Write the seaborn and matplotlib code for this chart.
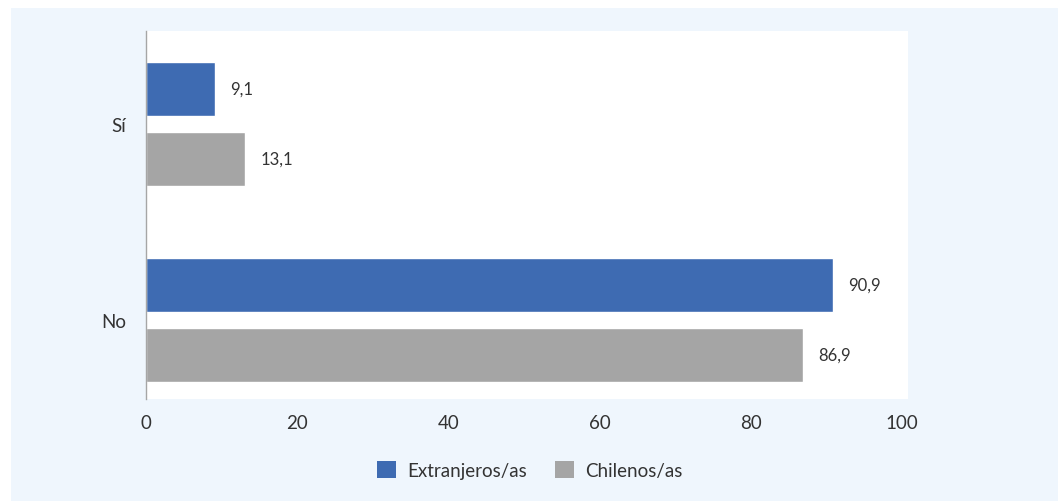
import matplotlib
matplotlib.use("Agg")
import matplotlib.pyplot as plt
from matplotlib.patches import Rectangle
import seaborn as sns
import pandas as pd

# Data
categories = ["Sí", "No"]
series_names = ["Extranjeros/as", "Chilenos/as"]
extranjeros = [9.1, 90.9]
chilenos = [13.1, 86.9]
x_ticks = [0, 20, 40, 60, 80, 100]

colors = ["#3E6BB2", "#A5A5A5"]
text_color = "#333333"
panel_bg = "#EFF6FD"

df = pd.DataFrame({
    "categoria": categories * 2,
    "grupo": [series_names[0]] * len(categories) + [series_names[1]] * len(categories),
    "valor": extranjeros + chilenos,
})

sns.set_theme(style="white")
plt.rcParams["font.family"] = ["Lato", "DejaVu Sans"]

W, H = 1058, 502
fig = plt.figure(figsize=(W / 100, H / 100), dpi=100, facecolor="white")
fig.patches.append(Rectangle((11 / W, 0), 1 - 11 / W, 1 - 9 / H,
                             transform=fig.transFigure, facecolor=panel_bg,
                             edgecolor="none", zorder=-10))

ax = fig.add_axes([146 / W, (H - 400) / H, (908 - 146) / W, (400 - 32) / H])
ax.set_zorder(1)
ax.set_facecolor("white")

sns.barplot(data=df, y="categoria", x="valor", hue="grupo", order=categories,
            hue_order=series_names, palette=colors, orient="h",
            width=0.714, gap=0.23, saturation=1, ax=ax, legend=False)

# Value labels next to each bar
for container, vals in zip(ax.containers, [extranjeros, chilenos]):
    for bar, v in zip(container, vals):
        ax.annotate(f"{v:.1f}".replace(".", ","),
                    xy=(bar.get_width(), bar.get_y() + bar.get_height() / 2),
                    xytext=(11, 0), textcoords="offset points",
                    va="center", ha="left", fontsize=12, color=text_color)

ax.set_xlim(0, 100.8)
ax.set_ylim(1.403, -0.474)
ax.set_xticks(x_ticks)
ax.set_xticklabels([str(t) for t in x_ticks])
ax.set_xlabel("")
ax.set_ylabel("")
ax.tick_params(axis="x", length=0, pad=11, labelsize=13.5, colors=text_color)
ax.tick_params(axis="y", length=0, pad=14, labelsize=13.5, colors=text_color)

for side in ["top", "right", "bottom"]:
    ax.spines[side].set_visible(False)
ax.spines["left"].set_color("#A6A6A6")
ax.spines["left"].set_linewidth(1)

handles = [Rectangle((0, 0), 1, 1, facecolor=c, edgecolor="none") for c in colors]
fig.legend(handles, series_names, loc="center", bbox_to_anchor=(530 / W, 1 - 471 / H),
           ncol=2, frameon=False, fontsize=13.5, handlelength=1.0, handleheight=1.0,
           handletextpad=0.6, columnspacing=1.5, labelcolor=text_color)

fig.savefig("out.png", dpi=100, facecolor=fig.get_facecolor())
